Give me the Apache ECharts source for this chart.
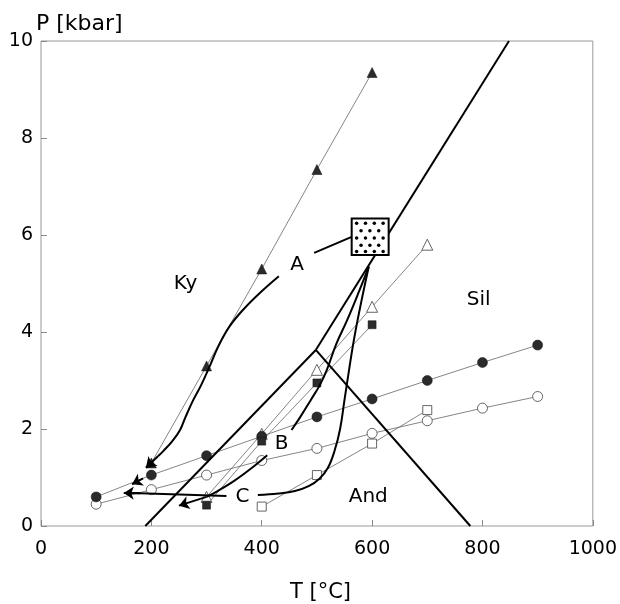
<!DOCTYPE html>
<html>
<head>
<meta charset="utf-8">
<title>P-T paths</title>
<script src="https://cdn.jsdelivr.net/npm/echarts@6/dist/echarts.min.js"></script>
<style>
  html, body { margin: 0; padding: 0; background: #fff; }
  #chart { width: 620px; height: 604px; }
</style>
</head>
<body>
<div id="chart"></div>
<script>
// geotherm markers, [T degC, P kbar]
var triFilled = [[200, 1.3], [300, 3.3], [400, 5.3], [500, 7.35], [600, 9.35]];
var triOpen = [[300, 0.6], [400, 1.9], [500, 3.22], [600, 4.52], [700, 5.8]];
var sqFilled = [[300, 0.43], [400, 1.75], [500, 2.95], [600, 4.15]];
var sqOpen = [[400, 0.4], [500, 1.05], [600, 1.7], [700, 2.39]];
var circFilled = [[100, 0.6], [200, 1.05], [300, 1.45], [400, 1.85], [500, 2.25], [600, 2.62], [700, 3.0], [800, 3.37], [900, 3.73]];
var circOpen = [[100, 0.45], [200, 0.75], [300, 1.05], [400, 1.35], [500, 1.6], [600, 1.91], [700, 2.17], [800, 2.43], [900, 2.67]];

// Al2SiO5 phase boundaries
var kySil = [[498, 3.63], [848, 10]];
var kyAnd = [[189, 0], [498, 3.63]];
var andSil = [[498, 3.63], [778, 0]];

// P-T paths (split where the letter sits)
var pathA1 = [[563, 5.96], [495, 5.63]];
var pathA2 = [[431, 5.15], [398, 4.82], [368, 4.48], [342, 4.12], [322, 3.72], [306, 3.3], [290, 2.9], [276, 2.6], [262, 2.25], [252, 1.98], [238, 1.75], [222, 1.55], [212, 1.44]];
var pathB1 = [[594, 5.35], [575, 4.8], [555, 4.25], [535, 3.75], [518, 3.22], [505, 2.9], [489, 2.6], [470, 2.25], [454, 1.98]];
var pathB2 = [[410, 1.46], [380, 1.18], [350, 0.93], [320, 0.72], [300, 0.6]];
var pathC1 = [[594, 5.35], [580, 4.6], [568, 3.9], [558, 3.2], [550, 2.6], [542, 2.0], [532, 1.55], [520, 1.2], [505, 0.98], [485, 0.82], [460, 0.72], [430, 0.67], [393, 0.64]];
var pathC2 = [[336, 0.62], [165, 0.68]];

// arrow heads: [from, to]
var arrows = [
  [[212, 1.44], [190, 1.2]],
  [[300, 0.6], [250, 0.42]],
  [[180, 0.675], [150, 0.68]],
  [[185, 0.98], [165, 0.86]]
];

// peak box and its stipple
var boxT = [563, 630];
var boxP = [5.59, 6.34];
var stipple = [
  [572, 6.24], [588, 6.24], [604, 6.24], [620, 6.24],
  [580, 6.09], [596, 6.09], [612, 6.09],
  [572, 5.94], [588, 5.94], [604, 5.94], [620, 5.94],
  [580, 5.79], [596, 5.79], [612, 5.79],
  [572, 5.66], [588, 5.66], [604, 5.66], [620, 5.66]
];

var fieldLabels = [
  { name: 'Ky', value: [262, 5.0] },
  { name: 'A', value: [464, 5.38] },
  { name: 'Sil', value: [793, 4.66] },
  { name: 'B', value: [436, 1.7] },
  { name: 'C', value: [365, 0.6] },
  { name: 'And', value: [593, 0.6] }
];

var chart = echarts.init(document.getElementById('chart'));
var font = 'DejaVu Sans, Arial, sans-serif';
var thin = { color: '#666', width: 0.8 };
var thick = { color: '#000', width: 2 };

function geotherm(data, symbol, size, filled) {
  return {
    type: 'line', data: data, symbol: symbol, symbolSize: size, showSymbol: true,
    lineStyle: thin, z: 3,
    itemStyle: filled
      ? { color: '#2b2b2b', borderColor: '#111', borderWidth: 0.5 }
      : { color: '#fff', borderColor: '#555', borderWidth: 0.9 }
  };
}
function bold(data, smooth) {
  return { type: 'line', data: data, symbol: 'none', smooth: smooth, lineStyle: thick, z: 4 };
}

chart.setOption({
  animation: false,
  title: [
    { text: 'P [kbar]', left: 31, top: 8, textStyle: { fontFamily: font, fontSize: 22, fontWeight: 'normal', color: '#000' } },
    { text: 'T [°C]', left: 285, top: 577, textStyle: { fontFamily: font, fontSize: 21, fontWeight: 'normal', color: '#000' } }
  ],
  grid: { left: 41, right: 25, top: 41, bottom: 78, show: true, borderColor: '#999', borderWidth: 1 },
  xAxis: {
    type: 'value', min: 0, max: 1000, interval: 200,
    axisLine: { show: false },
    axisTick: { show: true, inside: true, length: 6, lineStyle: { color: '#888' } },
    axisLabel: { fontFamily: font, fontSize: 19, color: '#000', margin: 14, formatter: function (v) { return String(v); } },
    splitLine: { show: false }
  },
  yAxis: {
    type: 'value', min: 0, max: 10, interval: 2,
    axisLine: { show: false },
    axisTick: { show: true, inside: true, length: 6, lineStyle: { color: '#888' } },
    axisLabel: { fontFamily: font, fontSize: 19, color: '#000', margin: 8 },
    splitLine: { show: false }
  },
  series: [
    geotherm(circOpen, 'circle', 10, false),
    geotherm(sqOpen, 'rect', 9, false),
    geotherm(triOpen, 'triangle', 11, false),
    geotherm(circFilled, 'circle', 10, true),
    geotherm(sqFilled, 'rect', 8, true),
    geotherm(triFilled, 'triangle', 10, true),
    bold(kySil, false),
    bold(kyAnd, false),
    bold(andSil, false),
    bold(pathA1, false),
    bold(pathA2, 0.4),
    bold(pathB1, 0.4),
    bold(pathB2, 0.4),
    bold(pathC1, 0.4),
    bold(pathC2, false),
    {
      type: 'lines', coordinateSystem: 'cartesian2d', polyline: false,
      symbol: ['none', 'arrow'], symbolSize: 10,
      lineStyle: { color: '#000', width: 2, opacity: 1 }, z: 4,
      data: arrows.map(function (a) { return { coords: a }; })
    },
    {
      type: 'custom', z: 6,
      data: [[boxT[0], boxP[0], boxT[1], boxP[1]]],
      renderItem: function (params, api) {
        var a = api.coord([api.value(0), api.value(3)]);
        var b = api.coord([api.value(2), api.value(1)]);
        return {
          type: 'rect',
          shape: { x: a[0], y: a[1], width: b[0] - a[0], height: b[1] - a[1] },
          style: { fill: '#fff', stroke: '#000', lineWidth: 2 }
        };
      }
    },
    {
      type: 'scatter', data: stipple, symbol: 'circle', symbolSize: 3.5, z: 7,
      itemStyle: { color: '#000', opacity: 1 }
    },
    {
      type: 'scatter', data: fieldLabels, symbolSize: 0, z: 8,
      itemStyle: { opacity: 1 },
      label: {
        show: true, position: 'inside', formatter: '{b}',
        fontFamily: font, fontSize: 20, color: '#000', textBorderWidth: 0
      }
    }
  ]
});
</script>
</body>
</html>
